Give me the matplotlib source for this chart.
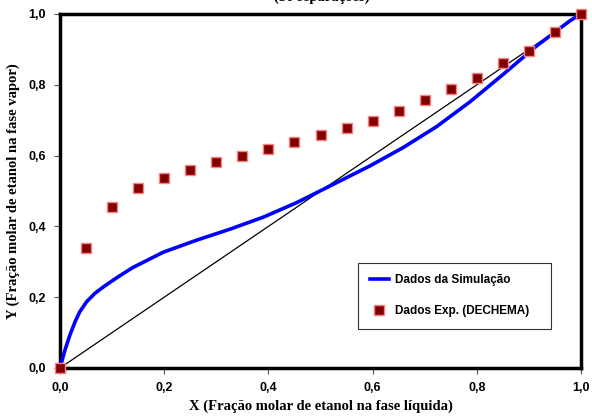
import matplotlib
matplotlib.use("Agg")
import matplotlib.pyplot as plt
from matplotlib.ticker import FuncFormatter

# Experimental data (DECHEMA)
x_exp = [0.0, 0.05, 0.10, 0.15, 0.20, 0.25, 0.30, 0.35, 0.40, 0.45, 0.50,
         0.55, 0.60, 0.65, 0.70, 0.75, 0.80, 0.85, 0.90, 0.95, 1.0]
y_exp = [0.0, 0.340, 0.454, 0.508, 0.537, 0.559, 0.582, 0.600, 0.619, 0.639, 0.658,
         0.679, 0.698, 0.727, 0.757, 0.787, 0.818, 0.861, 0.896, 0.948, 1.0]

# Simulation curve
x_sim = [0.0, 0.0096, 0.019, 0.029, 0.038, 0.051, 0.067, 0.086, 0.112, 0.140,
         0.198, 0.262, 0.326, 0.390, 0.454, 0.518, 0.595, 0.659, 0.723,
         0.787, 0.851, 0.915, 0.979, 1.0]
y_sim = [0.0, 0.051, 0.093, 0.131, 0.159, 0.187, 0.211, 0.232, 0.258, 0.284,
         0.327, 0.361, 0.392, 0.426, 0.467, 0.514, 0.571, 0.623, 0.682,
         0.752, 0.830, 0.910, 0.981, 1.0]

diag = [0.0, 1.0]
ticks = [0.0, 0.2, 0.4, 0.6, 0.8, 1.0]

fig = plt.figure(figsize=(5.92, 4.18), dpi=100)
ax = fig.add_axes([60/592, 1 - 368/418, 521/592, 354/418])

ax.plot(diag, diag, color="black", lw=0.9, zorder=2)
ax.plot(x_sim, y_sim, color="#0000FF", lw=2.6, label="Dados da Simulação",
        solid_joinstyle="round", zorder=3)
ax.plot(x_exp, y_exp, ls="none", marker="s", ms=7, mfc="#800000", mec="#FF8080",
        mew=1.0, label="Dados Exp. (DECHEMA)", clip_on=False, zorder=4)

ax.set_xlim(0, 1)
ax.set_ylim(0, 1)
ax.set_xticks(ticks)
ax.set_yticks(ticks)
fmt = FuncFormatter(lambda v, p: f"{v:.1f}".replace(".", ","))
ax.xaxis.set_major_formatter(fmt)
ax.yaxis.set_major_formatter(fmt)
for lab in ax.get_xticklabels() + ax.get_yticklabels():
    lab.set_fontfamily("Liberation Sans")
    lab.set_fontweight("bold")
    lab.set_fontsize(9)
ax.tick_params(direction="out", length=4, width=0.8, color="#555555", pad=6)
for s in ax.spines.values():
    s.set_linewidth(2.5)
    s.set_color("black")

ax.set_xlabel("X (Fração molar de etanol na fase líquida)", fontfamily="Liberation Serif",
              fontweight="bold", fontsize=10.5, labelpad=4)
ax.set_ylabel("Y (Fração molar de etanol na fase vapor)", fontfamily="Liberation Serif",
              fontweight="bold", fontsize=10.5, labelpad=6)

fig.text(322/592, 1 - 1/418, "(50 separações)", ha="center", va="baseline",
         fontfamily="Liberation Serif", fontweight="bold", fontsize=10.5)

leg = ax.legend(loc="upper left", bbox_to_anchor=(0.572, 0.0876, 0.37, 0.21),
                mode="expand", fancybox=False, framealpha=1, edgecolor="#333333",
                prop={"family": "Liberation Sans", "weight": "bold", "size": 8.5},
                handlelength=1.6, handletextpad=0.5, labelspacing=1.6,
                borderpad=1.0, borderaxespad=0)
leg.get_frame().set_linewidth(0.8)

fig.savefig("out.png", dpi=100)
